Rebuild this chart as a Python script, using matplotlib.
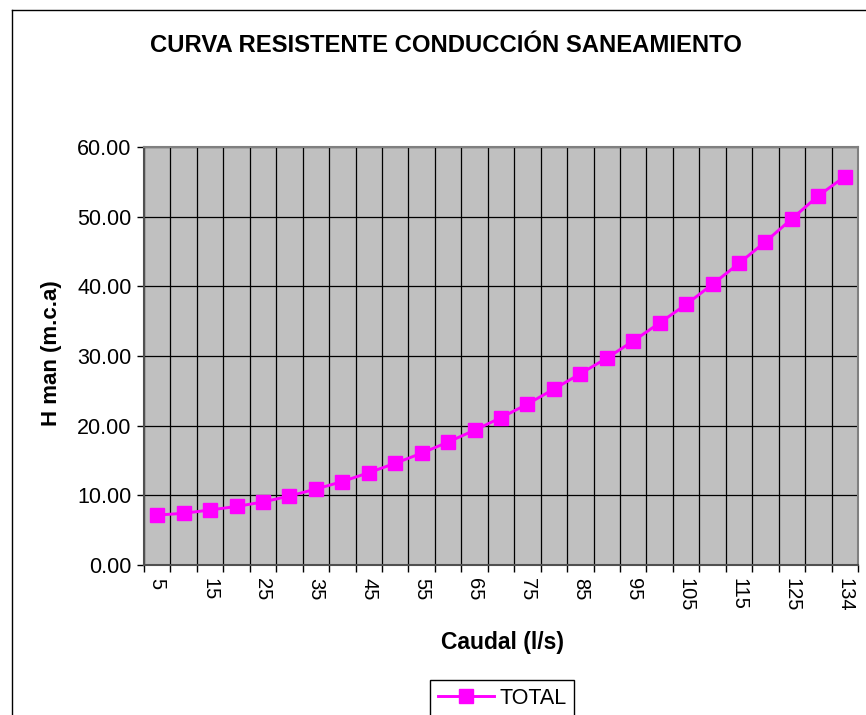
import numpy as np
import matplotlib.pyplot as plt
from matplotlib.lines import Line2D

plt.rcParams['font.family'] = ['Liberation Sans', 'DejaVu Sans']

# Data
caudal = [5, 10, 15, 20, 25, 30, 35, 40, 45, 50, 55, 60, 65, 70, 75,
          80, 85, 90, 95, 100, 105, 110, 115, 120, 125, 130, 134]
h_total = [7.17, 7.42, 7.90, 8.40, 9.05, 9.90, 10.90, 11.98, 13.25, 14.60,
           16.05, 17.65, 19.35, 21.15, 23.10, 25.25, 27.45, 29.70, 32.15,
           34.75, 37.40, 40.30, 43.30, 46.40, 49.70, 53.00, 55.75]

W, H = 866, 715
fig = plt.figure(figsize=(W / 100, H / 100), dpi=100)
fig.patch.set_facecolor('white')

# outer chart border (runs off the right/bottom edge)
fig.add_artist(Line2D([12 / W, 12 / W], [1 - 10 / H, -0.1], transform=fig.transFigure,
                      color='black', linewidth=1.0))
fig.add_artist(Line2D([12 / W, 1.1], [1 - 10 / H, 1 - 10 / H], transform=fig.transFigure,
                      color='black', linewidth=1.0))

ax = fig.add_axes([144 / W, 1 - 565 / H, (858 - 144) / W, (565 - 147) / H])
ax.set_facecolor('#c0c0c0')

x = np.arange(len(caudal))
ax.plot(x, h_total, color='#ff00ff', linewidth=2.1, marker='s', markersize=10.5,
        markeredgecolor='#ff00ff', label='TOTAL', zorder=3)

ax.set_xlim(-0.5, len(caudal) - 0.5)
ax.set_ylim(0, 60)

# y axis
yt = np.arange(0, 61, 10)
ax.set_yticks(yt)
ax.set_yticklabels([f'{v:.2f}' for v in yt], fontsize=15.5)
ax.yaxis.grid(True, color='black', linewidth=0.9)

# x axis: labels at every other category, ticks/grid at category boundaries
lab_idx = list(range(0, len(caudal), 2))
ax.set_xticks(lab_idx)
ax.set_xticklabels([str(caudal[i]) for i in lab_idx], rotation=-90, fontsize=14.5)
ax.tick_params(axis='x', which='major', length=0, pad=9)
ax.set_xticks(np.arange(-0.5, len(caudal), 1.0), minor=True)
ax.tick_params(axis='x', which='minor', length=5, width=1, color='black')
ax.tick_params(axis='y', length=5, width=1, color='black', pad=4)
ax.xaxis.grid(True, which='minor', color='black', linewidth=0.9)
ax.xaxis.grid(False, which='major')
ax.set_axisbelow(True)

for side in ['top', 'right']:
    ax.spines[side].set_color('#808080')
    ax.spines[side].set_linewidth(1.5)
ax.spines['left'].set_color('#505050')
ax.spines['bottom'].set_color('#505050')
ax.spines['left'].set_linewidth(1.5)
ax.spines['bottom'].set_linewidth(1.5)

fig.text(446 / W, 1 - 45 / H, 'CURVA RESISTENTE CONDUCCIÓN SANEAMIENTO',
         ha='center', va='center', fontsize=17.2, fontweight='bold')
fig.text(502 / W, 1 - 643 / H, 'Caudal (l/s)', ha='center', va='center',
         fontsize=16.5, fontweight='bold')
fig.text(52 / W, 1 - 353 / H, 'H man (m.c.a)', ha='center', va='center',
         rotation=90, fontsize=16, fontweight='bold')

leg = fig.legend(loc='center', bbox_to_anchor=(502 / W, 1 - 698 / H), fontsize=15.5,
                 frameon=True, fancybox=False, edgecolor='black', framealpha=1,
                 handlelength=2.6, borderpad=0.35, handletextpad=0.25,
                 borderaxespad=0)
leg.get_frame().set_linewidth(1.0)

fig.savefig('out.png', dpi=100)
